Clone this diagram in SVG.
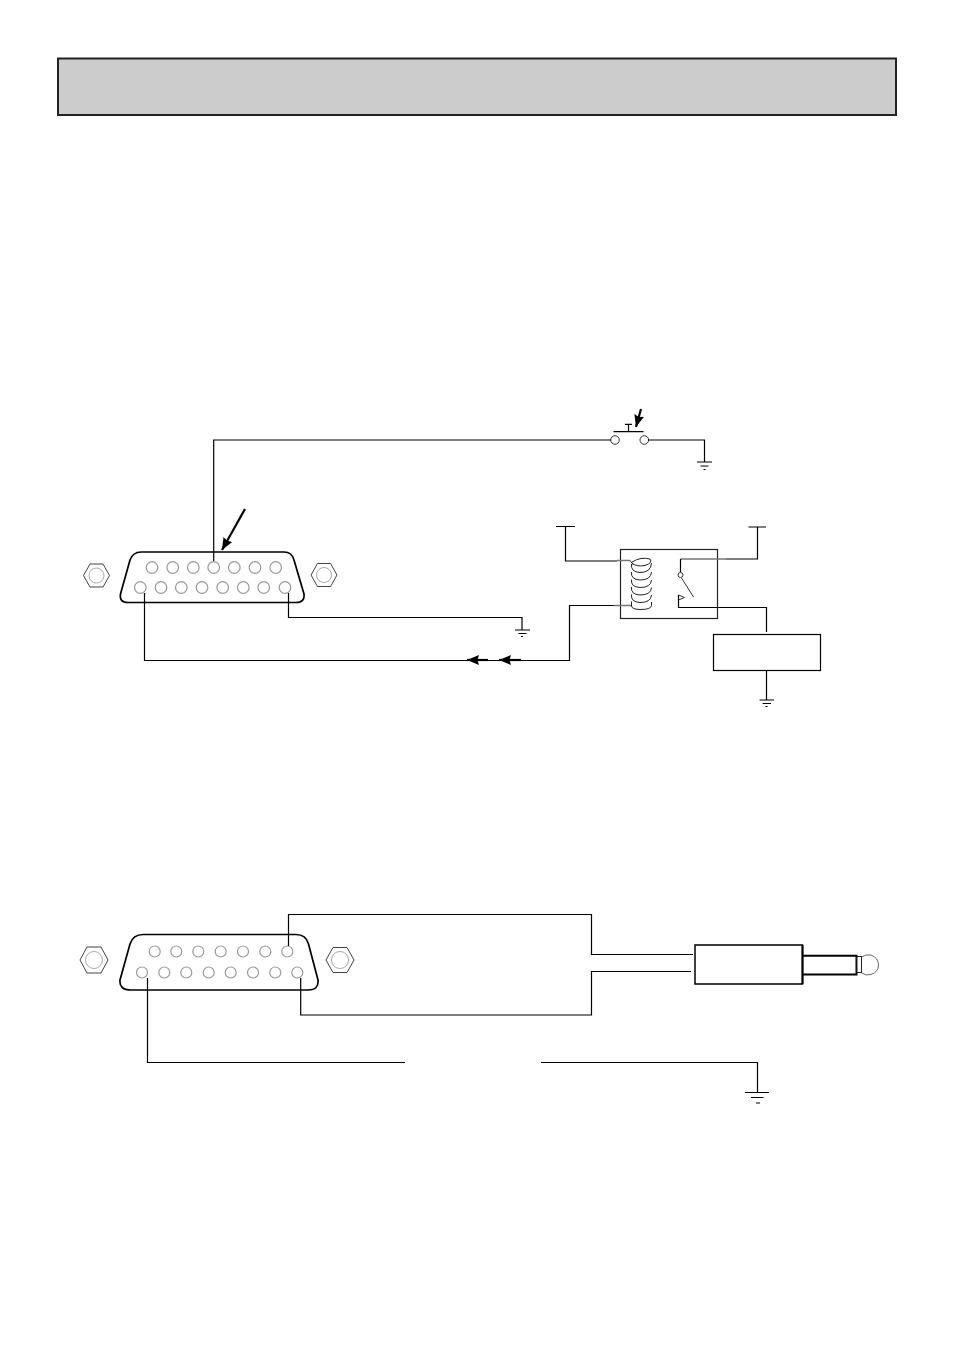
<svg xmlns="http://www.w3.org/2000/svg" width="954" height="1351" viewBox="0 0 954 1351">
<defs>
<style>
.w{fill:none;stroke:#000;stroke-width:1.2}
.g{fill:none;stroke:#777;stroke-width:1.3}
.pin{fill:#fff;stroke:#999;stroke-width:1.200}
.shell{fill:#fff;stroke:#000;stroke-width:1.700}
.hex{fill:#fff;stroke:#444;stroke-width:1}
.hexi{fill:none;stroke:#aaa;stroke-width:1}
.thick{fill:none;stroke:#000;stroke-width:2}
.arw{fill:none;stroke:#000;stroke-width:2.200;marker-end:url(#ah)}
</style>
<marker id="ah" markerUnits="userSpaceOnUse" markerWidth="13" markerHeight="12" refX="12" refY="6" orient="auto"><path d="M0 1L12 6L0 11L1.500 6Z" fill="#000"/></marker>
</defs>
<rect width="954" height="1351" fill="#fff"/>
<g id="header"><rect x="58" y="58.500" width="838" height="56.500" fill="#ccc" stroke="#222" stroke-width="2"/></g>

<g id="connector-a">
<path class="hex" d="M83.500 575.500L90 564H103L109.500 575.500L103 587H90Z"/><circle class="hexi" cx="96.500" cy="575.500" r="7.500"/>
<path class="hex" d="M311 575L317.500 563.500H330.500L337 575L330.500 586.500H317.500Z"/><circle class="hexi" cx="324" cy="575" r="7.500"/>
<path class="shell" d="M130 560Q133 552 141 552H284Q292 552 294 560L304 594Q305 602.500 296 602.500H128Q119 602.500 120.500 594Z"/>
<g class="pin">
<circle cx="152" cy="567.500" r="5.800"/><circle cx="172.700" cy="567.500" r="5.800"/><circle cx="193.300" cy="567.500" r="5.800"/><circle cx="213.700" cy="567.500" r="5.800"/><circle cx="234.300" cy="567.500" r="5.800"/><circle cx="255" cy="567.500" r="5.800"/><circle cx="275.700" cy="567.500" r="5.800"/>
<circle cx="140.300" cy="587.500" r="5.800"/><circle cx="161" cy="587.500" r="5.800"/><circle cx="181.300" cy="587.500" r="5.800"/><circle cx="202" cy="587.500" r="5.800"/><circle cx="222.700" cy="587.500" r="5.800"/><circle cx="243.300" cy="587.500" r="5.800"/><circle cx="263.700" cy="587.500" r="5.800"/><circle cx="285" cy="587.500" r="5.800"/>
</g>
</g>

<g id="push-switch">
<circle cx="615" cy="440" r="4.300" fill="#fff" stroke="#333"/><circle cx="644.300" cy="440" r="4.300" fill="#fff" stroke="#333"/>
<path class="w" d="M613.500 431.700H643.500M628.500 431.700V424.300M625 424.300H632"/>
</g>

<g id="ground-1"><path class="w" d="M697 462H712M700.500 466H708.500M703.500 469.500H705.500"/></g>
<g id="ground-2"><path class="w" d="M515 630H530M518.500 633.500H526.500M521 636.500H523"/></g>
<g id="ground-3"><path class="w" d="M759.500 700H774M762.500 703.500H771M765.500 706.500H767.500"/></g>
<g id="ground-4"><path class="w" d="M745 1092.500H769M751 1097.500H763.500M756 1103H760"/></g>

<g id="relay">
<rect x="620.500" y="549.500" width="97" height="69" fill="none" stroke="#222" stroke-width="1.200"/>
<path class="g" d="M617 560.500H630M614 605.500H632M680.500 559H726"/>
<path d="M630 560.500L633.500 565M632 562Q641 556.500 650 559Q653 563 645 565.500Q636 567 632 563M631.500 564Q630.500 572 640 572.500Q651 572.500 651.500 563M631.500 572Q630.500 579.500 640 580Q651 580 651.500 572M631.500 579.500Q630.500 587 640 587.500Q651 587.500 651.500 580M631.500 587Q630.500 594.500 640 595Q651 595 651.500 587.500M631.500 594.500Q630.500 602 640 602.500Q651 602.500 651.500 595M631.500 601.500V606Q632 609.500 641 609.500Q651 609.500 651.500 605.500V602" fill="none" stroke="#222" stroke-width="1"/>
<path class="w" d="M680.500 559V572.500M678.500 595V607.500H726"/>
<circle cx="680.500" cy="575" r="2.500" fill="#fff" stroke="#333"/>
<path d="M681.500 578L693.500 597M678.500 595L684.500 597.500L678.500 600" fill="none" stroke="#333" stroke-width="1"/>
</g>

<g id="load-box"><rect x="713.500" y="634.500" width="107" height="36" fill="#fff" stroke="#000" stroke-width="1.200"/></g>

<g id="connector-b">
<path class="hex" d="M80 960L87 947H101L108 960L101 973H87Z"/><circle class="hexi" cx="94" cy="960" r="8.500"/>
<path class="hex" d="M326 960L333 947.500H347L354 960L347 972.500H333Z" stroke-width="1.300"/><circle class="hexi" cx="340" cy="960" r="8.500"/>
<path class="shell" d="M130 944Q133 934.500 143 934.500H296Q306 934.500 308.500 944L318 980Q319 990 308 990H131Q119 990 120 980Z"/>
<g class="pin">
<circle cx="154.700" cy="951.500" r="5.500"/><circle cx="176.300" cy="951.500" r="5.500"/><circle cx="198.300" cy="951.500" r="5.500"/><circle cx="220.700" cy="951.500" r="5.500"/><circle cx="243" cy="951.500" r="5.500"/><circle cx="265.300" cy="951.500" r="5.500"/><circle cx="287.300" cy="951.500" r="5.500"/>
<circle cx="142" cy="972.500" r="5.500"/><circle cx="164.300" cy="972.500" r="5.500"/><circle cx="186.300" cy="972.500" r="5.500"/><circle cx="208.700" cy="972.500" r="5.500"/><circle cx="230.700" cy="972.500" r="5.500"/><circle cx="253" cy="972.500" r="5.500"/><circle cx="275.300" cy="972.500" r="5.500"/><circle cx="297.300" cy="972.500" r="5.500"/>
</g>
</g>

<g id="jack-plug">
<path d="M861.500 957Q866 954 871 955Q878.500 958 878.500 965Q878.500 972 871 974.500Q866 976 861.500 973Z" fill="#fff" stroke="#666" stroke-width="1"/>
<rect x="695" y="945" width="107.500" height="39" fill="#fff" stroke="#000" stroke-width="1.500"/>
<path class="thick" d="M802.500 955.700H856.500V974.500H802.500M802.500 945V984"/>
<rect x="857" y="956.500" width="4.500" height="16" fill="#fff" stroke="#222" stroke-width="1"/>
</g>

<g id="connectors">
<path class="w" d="M213.700 561V440H611"/>
<path class="w" d="M648 440H704.500V462"/>
<path class="w" d="M288.500 593V617.500H522V630"/>
<path class="w" d="M144.500 593V660.500H569.500V605.500H614"/>
<path class="w" d="M556 526.500H575M565.500 526.500V561H617"/>
<path class="w" d="M726 559H757.500V527M748.500 527H766"/>
<path class="w" d="M726 607.500H766.500V632"/>
<path class="w" d="M766.500 670V700"/>
<path class="w" d="M288.500 946V914.500H591.500V954.500H693"/>
<path class="w" d="M300.700 978V1015H591.500V971.500H691"/>
<path class="w" d="M147.500 978V1062.500H405"/>
<path class="w" d="M541 1062.500H757.500V1092"/>
<path class="arw" d="M245 509L222 550"/>
<path class="arw" d="M641 409L636 427"/>
<path class="arw" d="M488 660H467"/>
<path class="arw" d="M521 660H499"/>
</g>
</svg>
